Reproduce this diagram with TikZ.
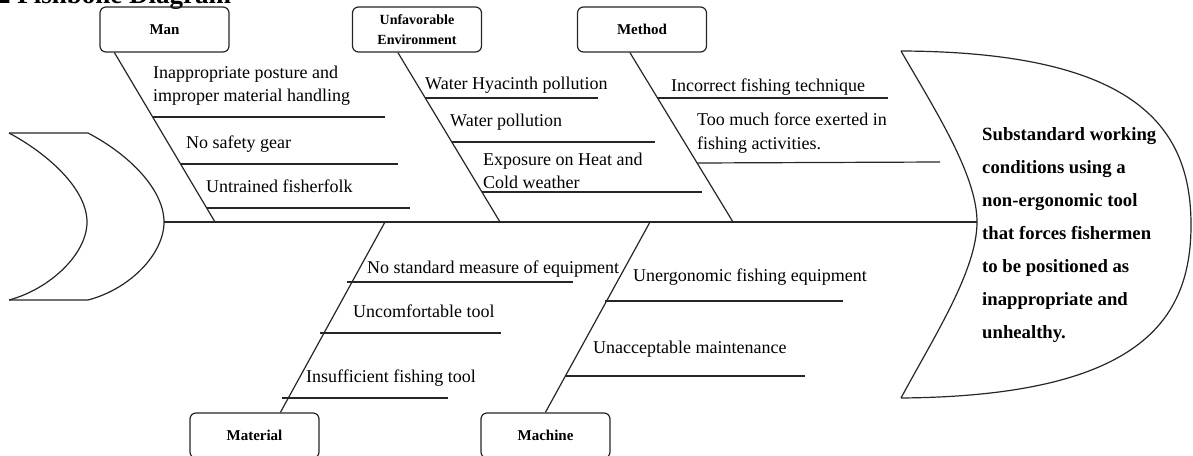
\documentclass[tikz,border=0pt]{standalone}
\usepackage{fontspec}
\setmainfont{Liberation Serif}
\usetikzlibrary{calc}
\begin{document}
\begin{tikzpicture}[x=1pt,y=-1pt,
  bone/.style={draw=black!85, line width=1.2pt},
  outline/.style={draw=black!85, line width=1.2pt},
  catbox/.style={draw=black!85, line width=1.2pt, rounded corners=6pt, minimum width=129pt, minimum height=45pt, inner sep=0pt, font=\fontsize{15}{19}\selectfont\bfseries, align=center},
  item/.style={inner sep=0pt, font=\fontsize{18}{23.5}\selectfont, align=left},
  effecttext/.style={inner sep=0pt, font=\fontsize{18.7}{33}\selectfont\bfseries, align=left}
]
\useasboundingbox (0,0) rectangle (1193,455);
\clip (0,0) rectangle (1193,455);

% title (cut at top)
\node[anchor=base west, inner sep=0pt, font=\fontsize{27}{30}\selectfont\bfseries] (title) at (-3,3) {2 Fishbone Diagram};

% tail
\draw[outline] (9,133) -- (88,133) .. controls (130,155) and (164,190) .. (164,222)
  .. controls (164,254) and (130,289) .. (88,300) -- (9,300);
\draw[outline] (9,133) .. controls (50,155) and (87,190) .. (87,222)
  .. controls (87,254) and (50,289) .. (9,300);

% head
\draw[outline] (901,51) .. controls (935,110) and (977,175) .. (977,222)
  .. controls (977,270) and (935,335) .. (901,398);
\draw[outline] (901,51) .. controls (1140,52) and (1191,130) .. (1191,225)
  .. controls (1191,320) and (1140,396) .. (901,398);

% spine
\coordinate (tailtip) at (164,222);
\coordinate (headtip) at (977,222);
\draw[bone] (tailtip) -- (headtip);

% category boxes
\node[catbox] (man) at (164.5,29.5) {Man};
\node[catbox, font=\fontsize{14}{20}\selectfont\bfseries] (env) at (417,29.5) {Unfavorable\\Environment};
\node[catbox] (method) at (642,29.5) {Method};
\node[catbox] (material) at (254.5,435.5) {Material};
\node[catbox] (machine) at (545.5,435.5) {Machine};

% spine joints
\coordinate (jman) at (215,222);
\coordinate (jenv) at (500,222);
\coordinate (jmethod) at (733,222);
\coordinate (jmaterial) at (385,222);
\coordinate (jmachine) at (650,222);

% main bones
\draw[bone] ($(man.south west)+(15,0)$) -- (jman);
\draw[bone] ($(env.south west)+(46,0)$) -- (jenv);
\draw[bone] ($(method.south west)+(53,0)$) -- (jmethod);
\draw[bone] (jmaterial) -- ($(material.north west)+(91,0)$);
\draw[bone] (jmachine) -- ($(machine.north west)+(65,0)$);

% Man causes
\node[item, anchor=north west] (m1) at (153,65.7) {Inappropriate posture and\\improper material handling};
\node[item, anchor=base west] (m2) at (186,148) {No safety gear};
\node[item, anchor=base west] (m3) at (206,192) {Untrained fisherfolk};
\draw[bone] (153,117) -- (385,117);
\draw[bone] (181,164) -- (398,164);
\draw[bone] (207,208) -- (410,208);

% Environment causes
\node[item, anchor=base west] (e1) at (425,89) {Water Hyacinth pollution};
\node[item, anchor=base west] (e2) at (450,126) {Water pollution};
\node[item, anchor=north west] (e3) at (483,152.7) {Exposure on Heat and\\Cold weather};
\draw[bone] (425,98) -- (598,98);
\draw[bone] (452,142) -- (655,142);
\draw[bone] (482,192) -- (702,192);

% Method causes
\node[item, anchor=base west] (t1) at (671,91) {Incorrect fishing technique};
\node[item, anchor=north west] (t2) at (697,112.7) {Too much force exerted in\\fishing activities.};
\draw[bone] (657,98) -- (888,98);
\draw[bone] (697,163) -- (940,162);

% Material causes
\node[item, anchor=base west] (a1) at (367,273) {No standard measure of equipment};
\node[item, anchor=base west] (a2) at (353,317) {Uncomfortable tool};
\node[item, anchor=base west] (a3) at (306,382) {Insufficient fishing tool};
\draw[bone] (347,282) -- (573,282);
\draw[bone] (320,333) -- (501,333);
\draw[bone] (282,398) -- (448,398);

% Machine causes
\node[item, anchor=base west] (c1) at (633,281) {Unergonomic fishing equipment};
\node[item, anchor=base west] (c2) at (593,353) {Unacceptable maintenance};
\draw[bone] (605,301) -- (843,301);
\draw[bone] (566,376) -- (805,376);

% effect
\node[effecttext, anchor=north west] (effect) at (982,127.4) {Substandard working\\conditions using a\\non-ergonomic tool\\that forces fishermen\\to be positioned as\\inappropriate and\\unhealthy.};
\end{tikzpicture}
\end{document}
